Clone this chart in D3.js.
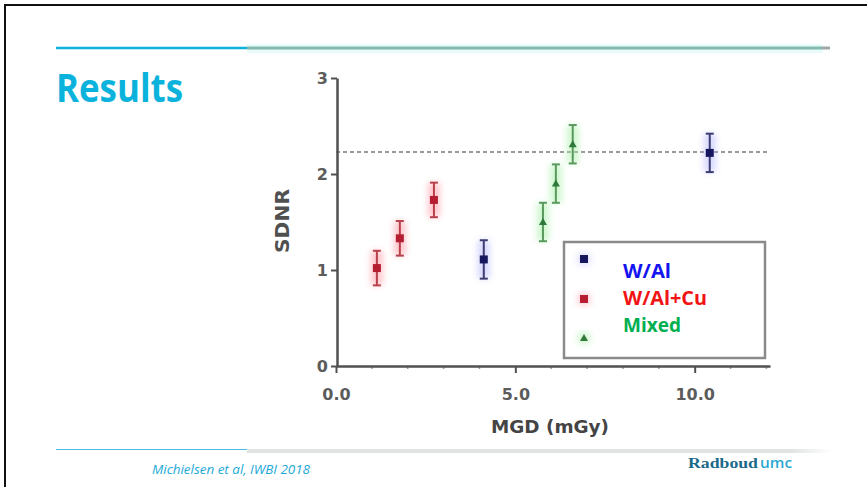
<!DOCTYPE html>
<html><head><meta charset="utf-8">
<script src="https://cdn.jsdelivr.net/npm/d3@7/dist/d3.min.js"></script>
<style>html,body{margin:0;padding:0;background:#fff;}svg{display:block;}</style>
</head><body>
<script>
// ---- data ----
const seriesNames = ["W/Al", "W/Al+Cu", "Mixed"];
const blueX = [4.12, 10.42];
const blueY = [1.11, 2.22];
const blueErr = [0.20, 0.20];
const redX = [1.14, 1.78, 2.73];
const redY = [1.02, 1.33, 1.73];
const redErr = [0.18, 0.18, 0.18];
const greenX = [5.77, 6.13, 6.60];
const greenY = [1.50, 1.90, 2.31];
const greenErr = [0.20, 0.20, 0.20];
const xTicks = [0, 5, 10];
const xTickLabels = ["0.0", "5.0", "10.0"];
const yTicks = [0, 1, 2, 3];
const refLine = 2.23;

const W = 867, H = 487;
const svg = d3.select("body").append("svg").attr("width", W).attr("height", H);

const defs = svg.append("defs");
defs.append("filter").attr("id", "halo").attr("x", "-100%").attr("y", "-100%").attr("width", "300%").attr("height", "300%")
  .append("feGaussianBlur").attr("stdDeviation", 3);

// slide frame
svg.append("line").attr("x1", 4).attr("x2", W).attr("y1", 5).attr("y2", 5).attr("stroke", "#111").attr("stroke-width", 2);
svg.append("line").attr("x1", 5).attr("x2", 5).attr("y1", 4).attr("y2", H).attr("stroke", "#111").attr("stroke-width", 2);

// header lines
svg.append("rect").attr("x", 247).attr("y", 44).attr("width", 576).attr("height", 9).attr("fill", "#e6fbfa");
svg.append("line").attr("x1", 56).attr("x2", 247).attr("y1", 48).attr("y2", 48).attr("stroke", "#0ab2dc").attr("stroke-width", 2.5);
svg.append("line").attr("x1", 247).attr("x2", 822).attr("y1", 48).attr("y2", 48).attr("stroke", "#84b9ae").attr("stroke-width", 3);
svg.append("line").attr("x1", 822).attr("x2", 830).attr("y1", 48).attr("y2", 48).attr("stroke", "#a0a8a6").attr("stroke-width", 3);

svg.append("text").attr("x", 56).attr("y", 102).text("Results")
  .attr("font-family", "'Open Sans', sans-serif").attr("font-weight", 700).attr("font-size", 39)
  .attr("fill", "#0bb3dc").attr("textLength", 127).attr("lengthAdjust", "spacingAndGlyphs");

// footer lines
svg.append("line").attr("x1", 56).attr("x2", 247).attr("y1", 449.5).attr("y2", 449.5).attr("stroke", "#4dbde0").attr("stroke-width", 1);
const fg = defs.append("linearGradient").attr("id", "fade").attr("x1", 0).attr("x2", 1);
fg.append("stop").attr("offset", "0.93").attr("stop-color", "#dfe4e2");
fg.append("stop").attr("offset", "1").attr("stop-color", "#ffffff");
svg.append("rect").attr("x", 247).attr("y", 449).attr("width", 585).attr("height", 4).attr("fill", "url(#fade)");

svg.append("text").attr("x", 152).attr("y", 474).text("Michielsen et al, IWBI 2018")
  .attr("font-family", "'Open Sans', sans-serif").attr("font-style", "italic").attr("font-size", 12.5)
  .attr("fill", "#22a9d8").attr("textLength", 158).attr("lengthAdjust", "spacingAndGlyphs");
svg.append("text").attr("x", 688).attr("y", 468).text("Radboud")
  .attr("font-family", "'Liberation Serif', serif").attr("font-weight", 700).attr("font-size", 14)
  .attr("fill", "#1b6a8a").attr("textLength", 70).attr("lengthAdjust", "spacingAndGlyphs");
svg.append("text").attr("x", 760).attr("y", 468).text("umc")
  .attr("font-family", "'Open Sans', sans-serif").attr("font-weight", 600).attr("font-size", 14)
  .attr("fill", "#2aa8d0").attr("textLength", 32).attr("lengthAdjust", "spacingAndGlyphs");

// ---- chart ----
const x = d3.scaleLinear().domain([0, 12.1]).range([336, 770]);
const y = d3.scaleLinear().domain([0, 3]).range([366, 78]);
const axisColor = "#505050";
const tickFont = "'DejaVu Sans', sans-serif";

// reference dashed line
svg.append("line").attr("x1", x(0)).attr("x2", x(12.1)).attr("y1", y(refLine)).attr("y2", y(refLine))
  .attr("stroke", "#9a9a9a").attr("stroke-width", 2).attr("stroke-dasharray", "4,3");

// minor x ticks
const minor = d3.range(1, 13).filter(v => !xTicks.includes(v));
svg.append("g").selectAll("line").data(minor).join("line")
  .attr("x1", d => x(d)).attr("x2", d => x(d)).attr("y1", 366).attr("y2", 369)
  .attr("stroke", "#9a9a9a").attr("stroke-width", 1.5);

const xAxis = svg.append("g").attr("transform", "translate(0,366)")
  .call(d3.axisBottom(x).tickValues(xTicks).tickFormat((d, i) => xTickLabels[i]).tickSize(7).tickSizeOuter(0));
xAxis.select(".domain").attr("stroke", axisColor).attr("stroke-width", 2.5);
xAxis.selectAll(".tick line").attr("stroke", axisColor).attr("stroke-width", 2);
xAxis.selectAll(".tick text").attr("font-family", tickFont).attr("font-weight", 700).attr("font-size", 16)
  .attr("fill", "#5c5c5c").attr("dy", "1.5em");

const yAxis = svg.append("g").attr("transform", "translate(337,0)")
  .call(d3.axisLeft(y).tickValues(yTicks).tickFormat(d3.format("d")).tickSize(6).tickSizeOuter(0));
yAxis.select(".domain").attr("stroke", axisColor).attr("stroke-width", 2.5);
yAxis.selectAll(".tick line").attr("stroke", axisColor).attr("stroke-width", 2);
yAxis.selectAll(".tick text").attr("font-family", tickFont).attr("font-weight", 700).attr("font-size", 16)
  .attr("fill", "#5c5c5c").attr("x", -9);

svg.append("text").attr("transform", "translate(289,221) rotate(-90)").attr("text-anchor", "middle")
  .text("SDNR").attr("font-family", tickFont).attr("font-weight", 700).attr("font-size", 19).attr("fill", "#505050")
  .attr("textLength", 64).attr("lengthAdjust", "spacingAndGlyphs");
svg.append("text").attr("x", 550).attr("y", 433).attr("text-anchor", "middle")
  .text("MGD (mGy)").attr("font-family", tickFont).attr("font-weight", 700).attr("font-size", 17).attr("fill", "#444")
  .attr("textLength", 118).attr("lengthAdjust", "spacingAndGlyphs");

// series
const series = [
  {name: seriesNames[0], xs: blueX, ys: blueY, es: blueErr, mark: "#16165e", bar: "#3c3c74", halo: "#b8b8ff", shape: "square", text: "#1414f0"},
  {name: seriesNames[1], xs: redX, ys: redY, es: redErr, mark: "#b41e30", bar: "#b8404c", halo: "#ff9aa6", shape: "square", text: "#f01414"},
  {name: seriesNames[2], xs: greenX, ys: greenY, es: greenErr, mark: "#2f7a3a", bar: "#5a9a5e", halo: "#a8f0a8", shape: "tri", text: "#00b050"}
];

function drawMarker(g, cx, cy, s, fill) {
  if (s.shape === "square") {
    g.append("rect").attr("x", cx - 4).attr("y", cy - 4).attr("width", 8).attr("height", 8).attr("fill", fill);
  } else {
    g.append("path").attr("d", `M${cx},${cy - 4}L${cx + 4},${cy + 3}L${cx - 4},${cy + 3}Z`).attr("fill", fill);
  }
}

series.forEach(s => {
  const g = svg.append("g");
  const pts = s.xs.map((v, i) => ({x: v, y: s.ys[i], e: s.es[i]}));
  g.append("g").attr("filter", "url(#halo)").attr("opacity", 0.55).selectAll("rect").data(pts).join("rect")
    .attr("x", d => x(d.x) - 6).attr("y", d => y(d.y + d.e)).attr("width", 12).attr("height", d => y(d.y - d.e) - y(d.y + d.e))
    .attr("fill", s.halo);
  g.selectAll("line.eb").data(pts).join("line").attr("class", "eb")
    .attr("x1", d => x(d.x)).attr("x2", d => x(d.x)).attr("y1", d => y(d.y + d.e)).attr("y2", d => y(d.y - d.e))
    .attr("stroke", s.bar).attr("stroke-width", 2);
  g.selectAll("line.capt").data(pts).join("line").attr("class", "capt")
    .attr("x1", d => x(d.x) - 4).attr("x2", d => x(d.x) + 4).attr("y1", d => y(d.y + d.e)).attr("y2", d => y(d.y + d.e))
    .attr("stroke", s.bar).attr("stroke-width", 2);
  g.selectAll("line.capb").data(pts).join("line").attr("class", "capb")
    .attr("x1", d => x(d.x) - 4).attr("x2", d => x(d.x) + 4).attr("y1", d => y(d.y - d.e)).attr("y2", d => y(d.y - d.e))
    .attr("stroke", s.bar).attr("stroke-width", 2);
  pts.forEach(d => drawMarker(g, x(d.x), y(d.y), s, s.mark));
});

// legend
const lg = svg.append("g");
lg.append("rect").attr("x", 564).attr("y", 242).attr("width", 201).attr("height", 116)
  .attr("fill", "#fff").attr("stroke", "#8a8a8a").attr("stroke-width", 2.5);
const legMarkY = [259, 299, 338];
const legTextY = [278, 305, 332];
const legLen = [48, 84, 58];
series.forEach((s, i) => {
  lg.append("rect").attr("x", 578).attr("y", legMarkY[i] - 6).attr("width", 12).attr("height", 12)
    .attr("fill", s.halo).attr("opacity", 0.5).attr("filter", "url(#halo)");
  drawMarker(lg, 584, legMarkY[i], s, s.mark);
  lg.append("text").attr("x", 623).attr("y", legTextY[i]).text(s.name)
    .attr("font-family", "'Open Sans', sans-serif").attr("font-weight", 700).attr("font-size", 19)
    .attr("fill", s.text).attr("textLength", legLen[i]).attr("lengthAdjust", "spacingAndGlyphs");
});
</script>
</body></html>
